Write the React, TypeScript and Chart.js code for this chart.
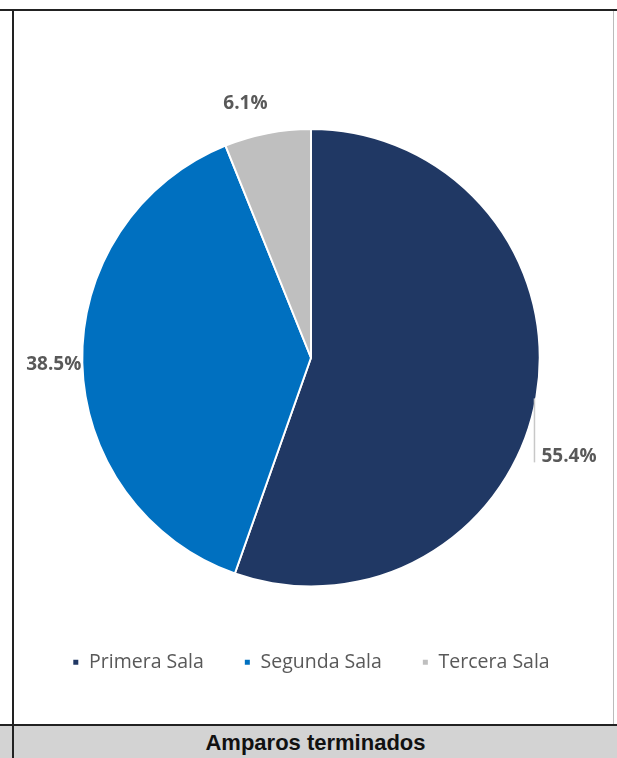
import React, { useEffect, useRef } from "react";
import { Chart, registerables } from "chart.js";

Chart.register(...registerables);

const categories = ["Primera Sala", "Segunda Sala", "Tercera Sala"];
const values = [55.4, 38.5, 6.1];
const valueLabels = ["55.4%", "38.5%", "6.1%"];
const colors = ["#203864", "#0070C0", "#BFBFBF"];
const footerTitle = "Amparos terminados";

// label placement styles (relative to each slice's outer edge point at mid-angle)
const labelStyles = [
  { leader: 66, dx: 7, dy: -6, align: "left" as CanvasTextAlign },
  { leader: 0, dx: -1, dy: 2, align: "right" as CanvasTextAlign },
  { leader: 0, dx: -22, dy: -30, align: "center" as CanvasTextAlign },
];

const labelPlugin = {
  id: "sliceLabels",
  afterDatasetsDraw(chart: any) {
    const ctx = chart.ctx;
    const meta = chart.getDatasetMeta(0);
    ctx.save();
    ctx.font = "bold 19px 'Open Sans'";
    ctx.fillStyle = "#595959";
    ctx.textBaseline = "middle";
    meta.data.forEach((arc: any, i: number) => {
      const p = arc.getProps(["x", "y", "startAngle", "endAngle", "outerRadius"], true);
      const mid = (p.startAngle + p.endAngle) / 2;
      const ex = p.x + Math.cos(mid) * p.outerRadius;
      const ey = p.y + Math.sin(mid) * p.outerRadius;
      const s = labelStyles[i];
      let ax = ex;
      let ay = ey;
      if (s.leader) {
        ctx.strokeStyle = "#C8C8C8";
        ctx.lineWidth = 1.5;
        ctx.beginPath();
        ctx.moveTo(ex - 2, ey + 2);
        ctx.lineTo(ex - 2, ey + s.leader);
        ctx.stroke();
        ax = ex - 2;
        ay = ey + s.leader;
      }
      ctx.textAlign = s.align;
      ctx.fillText(valueLabels[i], ax + s.dx, ay + s.dy);
    });
    ctx.restore();
  },
};

export default function App() {
  const ref = useRef<HTMLCanvasElement>(null);
  useEffect(() => {
    if (!ref.current) return;
    const chart = new Chart(ref.current, {
      type: "pie",
      data: {
        labels: categories,
        datasets: [
          {
            data: values,
            backgroundColor: colors,
            borderColor: "#FFFFFF",
            borderWidth: 2,
          },
        ],
      },
      options: {
        animation: false,
        responsive: false,
        layout: { padding: { top: 117, left: 0, right: 5, bottom: 42 } },
        plugins: {
          tooltip: { enabled: false },
          legend: {
            position: "bottom",
            title: { display: true, text: " ", font: { size: 10 }, padding: { top: 6, bottom: 7 } },
            labels: {
              boxWidth: 7,
              boxHeight: 7,
              padding: 40,
              color: "#595959",
              font: { family: "'Open Sans'", size: 19.5 },
            },
          },
        },
      },
      plugins: [labelPlugin],
    });
    return () => chart.destroy();
  }, []);

  return (
    <div style={{ position: "absolute", left: 0, top: 0, width: 617, height: 758, background: "#fff", overflow: "hidden" }}>
      <div style={{ position: "absolute", left: 0, top: 9, width: 617, height: 2, background: "#222" }} />
      <div style={{ position: "absolute", left: 12, top: 9, width: 2, height: 749, background: "#222" }} />
      <div style={{ position: "absolute", left: 613, top: 11, width: 1, height: 713, background: "#BBB" }} />
      <div style={{ position: "absolute", left: 0, top: 726, width: 617, height: 32, background: "#D3D3D3" }} />
      <div style={{ position: "absolute", left: 0, top: 724, width: 617, height: 2, background: "#222" }} />
      <div style={{ position: "absolute", left: 12, top: 724, width: 2, height: 34, background: "#222" }} />
      <div
        style={{
          position: "absolute",
          left: 14,
          top: 727,
          width: 603,
          height: 31,
          lineHeight: "31px",
          textAlign: "center",
          fontFamily: "'Liberation Sans', Arial, sans-serif",
          fontWeight: "bold",
          fontSize: 22,
          color: "#111",
        }}
      >
        {footerTitle}
      </div>
      <canvas ref={ref} width={599} height={713} style={{ position: "absolute", left: 14, top: 11 }} />
    </div>
  );
}
